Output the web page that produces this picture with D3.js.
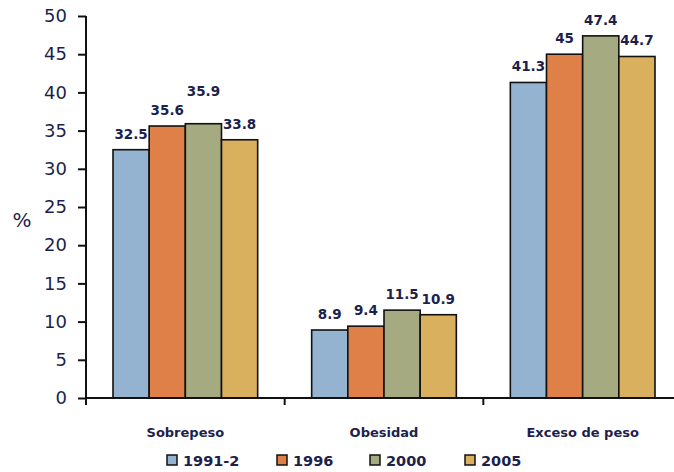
<!DOCTYPE html>
<html><head><meta charset="utf-8">
<script src="https://cdn.jsdelivr.net/npm/d3@7"></script>
<style>body{margin:0;background:#fff}svg{display:block}</style>
</head><body>
<svg id="c" width="674" height="472"></svg>
<script>
const categories = ["Sobrepeso", "Obesidad", "Exceso de peso"];
const series = ["1991-2", "1996", "2000", "2005"];
const v1991 = [32.5, 8.9, 41.3];
const v1996 = [35.6, 9.4, 45];
const v2000 = [35.9, 11.5, 47.4];
const v2005 = [33.8, 10.9, 44.7];
const yTicks = [0, 5, 10, 15, 20, 25, 30, 35, 40, 45, 50];

const colors = ["#94b3d0", "#de8048", "#a6aa80", "#d9b15e"];
const textCol = "#1d1f4e";
const labelLift = {"0|2": 17};

const values = [v1991, v1996, v2000, v2005];
const svg = d3.select("#c");
const x0 = d3.scaleBand().domain(categories).range([86, 682]).paddingInner(0).paddingOuter(0);
const x1 = d3.scaleBand().domain(series).range([27, x0.bandwidth() - 27]).padding(0);
const y = d3.scaleLinear().domain([0, 50]).range([398, 16]);

// bars
categories.forEach((c, ci) => {
  series.forEach((s, si) => {
    const v = values[si][ci];
    svg.append("rect")
      .attr("x", x0(c) + x1(s))
      .attr("y", y(v))
      .attr("width", x1.bandwidth())
      .attr("height", y(0) - y(v))
      .attr("fill", colors[si])
      .attr("stroke", "#111")
      .attr("stroke-width", 1.6);
    const lift = labelLift[ci + "|" + si] || 0;
    svg.append("text")
      .attr("x", x0(c) + x1(s) + x1.bandwidth() / 2)
      .attr("y", y(v) - 11 - lift)
      .attr("text-anchor", "middle")
      .attr("font-family", "DejaVu Sans")
      .attr("font-weight", "bold")
      .attr("font-size", 13.5)
      .attr("fill", textCol)
      .text(v);
  });
});

// y axis
const yAxis = svg.append("g").attr("transform", "translate(86,0)")
  .call(d3.axisLeft(y).tickValues(yTicks).tickSize(8).tickPadding(11));
yAxis.select(".domain").attr("stroke", "#111").attr("stroke-width", 2).attr("d", "M0,16V398");
yAxis.selectAll(".tick line").attr("stroke", "#111").attr("stroke-width", 2);
yAxis.selectAll(".tick text").attr("font-family", "DejaVu Sans").attr("font-size", 18).attr("fill", textCol);

// x axis
const xAxisLine = svg.append("g");
xAxisLine.append("line").attr("x1", 86).attr("x2", 682).attr("y1", y(0)).attr("y2", y(0))
  .attr("stroke", "#111").attr("stroke-width", 2);
const tickXs = categories.map(c => x0(c)).concat([x0.range()[1]]);
tickXs.forEach(tx => {
  xAxisLine.append("line").attr("x1", tx).attr("x2", tx).attr("y1", y(0)).attr("y2", y(0) + 7)
    .attr("stroke", "#111").attr("stroke-width", 2);
});
categories.forEach(c => {
  svg.append("text")
    .attr("x", x0(c) + x0.bandwidth() / 2)
    .attr("y", 437)
    .attr("text-anchor", "middle")
    .attr("font-family", "DejaVu Sans")
    .attr("font-weight", "bold")
    .attr("font-size", 13)
    .attr("fill", textCol)
    .text(c);
});

// y label
svg.append("text").attr("x", 22).attr("y", 227).attr("text-anchor", "middle")
  .attr("font-family", "DejaVu Sans").attr("font-size", 20).attr("fill", textCol).text("%");

// legend
const legX = [167, 277, 370, 465];
series.forEach((s, i) => {
  svg.append("rect").attr("x", legX[i]).attr("y", 455).attr("width", 10).attr("height", 10)
    .attr("fill", colors[i]).attr("stroke", "#111").attr("stroke-width", 1.5);
  svg.append("text").attr("x", legX[i] + 16).attr("y", 466)
    .attr("font-family", "DejaVu Sans").attr("font-weight", "bold").attr("font-size", 14.5)
    .attr("fill", textCol).text(s);
});
</script>
</body></html>
